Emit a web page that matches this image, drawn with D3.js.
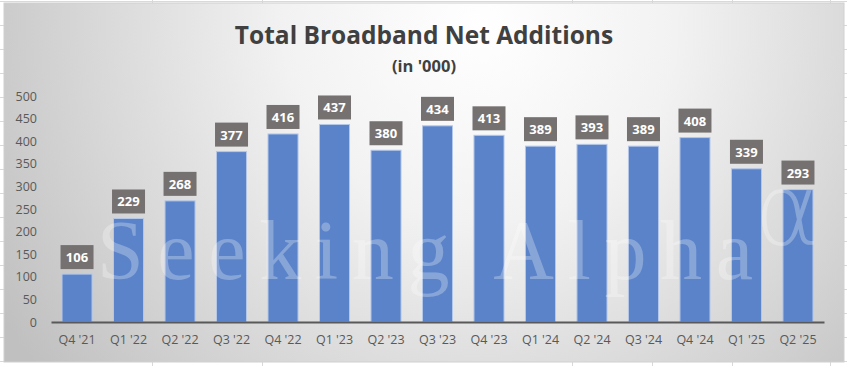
<!DOCTYPE html>
<html><head><meta charset="utf-8">
<script src="https://cdn.jsdelivr.net/npm/d3@7"></script>
<style>html,body{margin:0;padding:0;background:#fff;}svg{display:block;}</style>
</head><body>
<script>
const categories = ["Q4 '21","Q1 '22","Q2 '22","Q3 '22","Q4 '22","Q1 '23","Q2 '23","Q3 '23","Q4 '23","Q1 '24","Q2 '24","Q3 '24","Q4 '24","Q1 '25","Q2 '25"];
const netAdds = [106,229,268,377,416,437,380,434,413,389,393,389,408,339,293];
const yTicks = [0,50,100,150,200,250,300,350,400,450,500];
const titleText = "Total Broadband Net Additions";
const subtitleText = "(in '000)";

const W = 847, H = 366;
const svg = d3.select("body").append("svg").attr("width", W).attr("height", H);

// spreadsheet grid behind chart
const gridG = svg.append("g").attr("stroke", "#d9d9d9").attr("stroke-width", 1);
[152, 262, 572, 652, 732, 830].forEach(x => gridG.append("line").attr("x1", x+0.5).attr("x2", x+0.5).attr("y1", 0).attr("y2", H));
for (let y = 1; y < H; y += 24) gridG.append("line").attr("x1", 0).attr("x2", W).attr("y1", y+0.5).attr("y2", y+0.5);

const defs = svg.append("defs");
const grad = defs.append("radialGradient").attr("id", "bg").attr("gradientUnits", "userSpaceOnUse")
  .attr("cx", 480).attr("cy", 25).attr("r", 560);
grad.append("stop").attr("offset", "0").attr("stop-color", "#ffffff");
grad.append("stop").attr("offset", "0.35").attr("stop-color", "#f2f2f2");
grad.append("stop").attr("offset", "1").attr("stop-color", "#c0c0c0");
defs.append("clipPath").attr("id", "chartClip").append("rect").attr("x", 4).attr("y", 3).attr("width", 840).attr("height", 359);

svg.append("rect").attr("x", 4).attr("y", 3).attr("width", 840).attr("height", 359)
  .attr("fill", "url(#bg)").attr("stroke", "#d0d0d0");

const x = d3.scaleBand().domain(categories).range([51, 824]).paddingInner(0.417).paddingOuter(0.214);
const y = d3.scaleLinear().domain([0, 500]).range([322, 96]);

// title
svg.append("text").attr("x", 424).attr("y", 44).attr("text-anchor", "middle")
  .attr("font-family", "'Open Sans', sans-serif").attr("font-weight", "bold").attr("font-size", 24.5)
  .attr("fill", "#404040").text(titleText);
svg.append("text").attr("x", 424).attr("y", 72).attr("text-anchor", "middle")
  .attr("font-family", "'Open Sans', sans-serif").attr("font-weight", "bold").attr("font-size", 16.5)
  .attr("fill", "#404040").text(subtitleText);

// y axis
const yAxis = d3.axisLeft(y).tickValues(yTicks).tickSize(0).tickPadding(0);
const yg = svg.append("g").attr("transform", "translate(37,0)").call(yAxis);
yg.select(".domain").remove();
yg.selectAll("text").attr("font-family", "'Open Sans', sans-serif").attr("font-size", 12.5).attr("fill", "#595959");

// bars
svg.append("g").selectAll("rect").data(netAdds).join("rect")
  .attr("x", (d, i) => x(categories[i]))
  .attr("y", d => y(d))
  .attr("width", x.bandwidth())
  .attr("height", d => y(0) - y(d))
  .attr("fill", "#5b83c9").attr("stroke", "#b4c7e9").attr("stroke-width", 1);

// watermark
const wm = svg.append("g").attr("clip-path", "url(#chartClip)").attr("fill", "#ffffff").attr("fill-opacity", 0.28)
  .attr("font-family", "'Liberation Serif', 'DejaVu Serif', serif");
wm.append("text").attr("x", 97).attr("y", 279).attr("font-size", 84)
  .attr("textLength", 656).attr("lengthAdjust", "spacing").text("Seeking Alpha");
wm.append("text").attr("x", 754).attr("y", 245).attr("font-size", 100)
  .attr("font-family", "'DejaVu Sans', sans-serif").attr("font-weight", "200").text("α");

// x axis
const xAxis = d3.axisBottom(x).tickSize(0).tickPadding(13);
const xg = svg.append("g").attr("transform", `translate(0,${y(0)})`).call(xAxis);
xg.select(".domain").attr("stroke", "#595959").attr("stroke-width", 2);
xg.selectAll("text").attr("font-family", "'Open Sans', sans-serif").attr("font-size", 12.5).attr("fill", "#595959");

// data labels
const lab = svg.append("g").selectAll("g").data(netAdds).join("g")
  .attr("transform", (d, i) => `translate(${x(categories[i]) + x.bandwidth()/2},${y(d) - 5})`);
lab.append("rect").attr("x", -16.5).attr("y", -24).attr("width", 33).attr("height", 24).attr("fill", "#767171");
lab.append("text").attr("y", -7).attr("text-anchor", "middle")
  .attr("font-family", "'Open Sans', sans-serif").attr("font-weight", "bold").attr("font-size", 13)
  .attr("fill", "#ffffff").text(d => d);
</script>
</body></html>
